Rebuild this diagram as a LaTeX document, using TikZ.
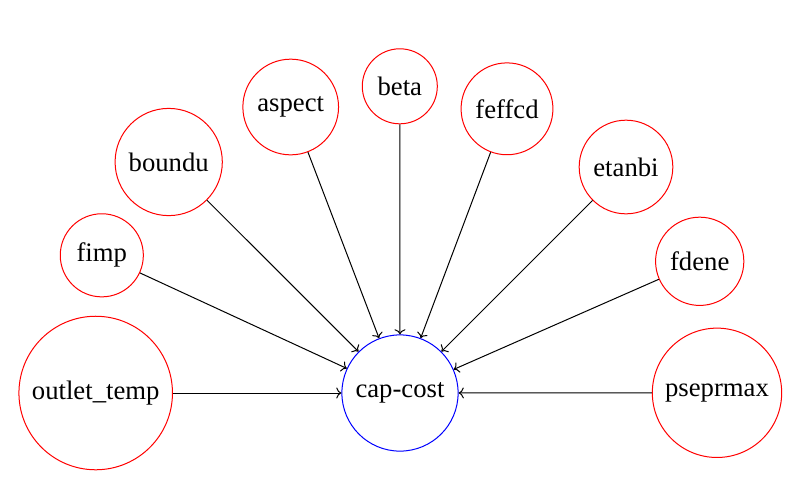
\documentclass[tikz,border=0pt]{standalone}
\usepackage{fontspec}
\setmainfont{Liberation Serif}
\usepackage{tikz}
\usetikzlibrary{arrows.meta}
\tikzset{
  invar/.style={circle,draw=red,line width=0.5pt,inner sep=5pt,font=\fontsize{13.35}{16}\selectfont},
  outvar/.style={circle,draw=blue,line width=0.5pt,inner sep=5pt,font=\fontsize{13.35}{16}\selectfont},
}
\newcommand{\varat}[3]{\node[invar] (#1) at #2 {#3} ;}
\newcommand{\feed}[2]{\draw[->] (#1)--(#2) ;}

\begin{document}
\begin{tikzpicture}[x=0.5pt,y=-0.5pt,>={To[length=2.6pt,width=5.5pt]},line width=0.5pt]
        \useasboundingbox (0,0) rectangle (792,484);
        \node[outvar] (capcost) at (400,393) {cap-cost};
        \varat{outlettemp}{(95.7,393)}{outlet\_temp}
        \varat{fimp}{(101.8,255.3)}{fimp}
        \varat{boundu}{(168.7,162)}{boundu}
        \varat{aspect}{(290.7,107)}{aspect}
        \varat{beta}{(399.8,86.3)}{beta}
        \varat{feffcd}{(507,108.8)}{feffcd}
        \varat{etanbi}{(626,167)}{etanbi}
        \varat{fdene}{(699.7,261.3)}{fdene}
        \varat{pseprmax}{(717,392.8)}{pseprmax}
        \feed{outlettemp}{capcost}
        \feed{fimp}{capcost}
        \feed{boundu}{capcost}
        \feed{aspect}{capcost}
        \feed{beta}{capcost}
        \feed{feffcd}{capcost}
        \feed{etanbi}{capcost}
        \feed{fdene}{capcost}
        \feed{pseprmax}{capcost}
    \end{tikzpicture}
\end{document}
